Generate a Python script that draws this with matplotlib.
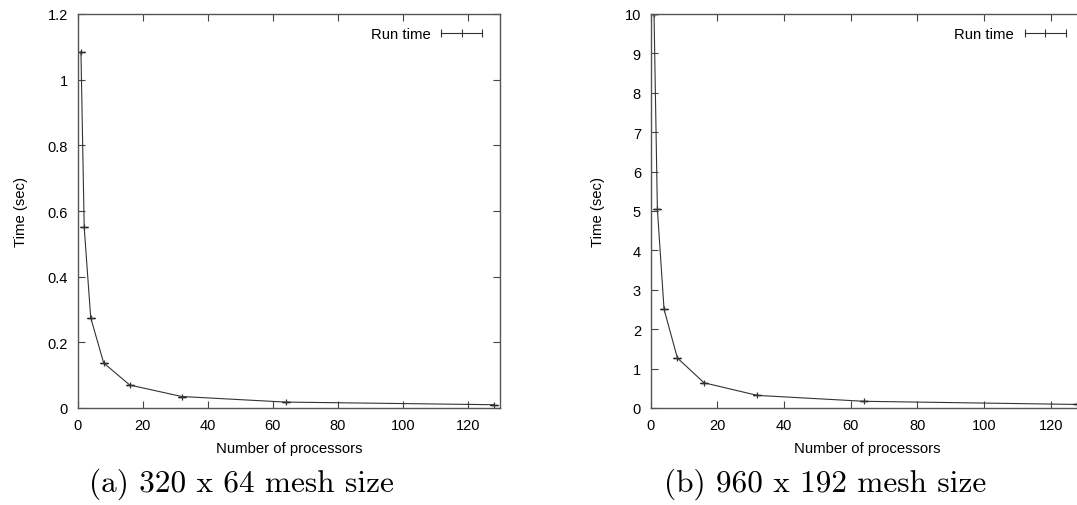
import matplotlib
matplotlib.use("Agg")
import matplotlib.pyplot as plt
from matplotlib.lines import Line2D

processors = [1, 2, 4, 8, 16, 32, 64, 128]
time_a = [1.085, 0.55, 0.275, 0.137, 0.07, 0.035, 0.018, 0.010]
time_b = [10.0, 5.05, 2.51, 1.27, 0.64, 0.32, 0.17, 0.09]
err_a = [0.0] * len(processors)
err_b = [0.0] * len(processors)
yticks_a = [0, 0.2, 0.4, 0.6, 0.8, 1, 1.2]
ytick_labels_a = ["0", "0.2", "0.4", "0.6", "0.8", "1", "1.2"]
yticks_b = list(range(0, 11))
xticks = [0, 20, 40, 60, 80, 100, 120]
captions = ["(a) 320 x 64 mesh size", "(b) 960 x 192 mesh size"]
series_label = "Run time"

plt.rcParams['font.family'] = ['Liberation Sans', 'DejaVu Sans']

fig = plt.figure(figsize=(10.77, 5.06), dpi=100)
W, H = 1077, 506

def make_ax(x0, y0, x1, y1):
    return fig.add_axes([x0 / W, 1 - y1 / H, (x1 - x0) / W, (y1 - y0) / H])

ax1 = make_ax(77.7, 15, 500.2, 409)
ax2 = make_ax(650.7, 15, 1084, 409)

spine_c = "#555555"
line_c = "#333333"

def style(ax, y, err, yticks, ylabels, ylim, caption, cap_x):
    ax.errorbar(processors, y, yerr=err, color=line_c, lw=0.8, marker='+',
                markersize=4.5, mew=0.9, capsize=3, capthick=0.9, ecolor='k')
    ax.set_xlim(0, 130)
    ax.set_ylim(*ylim)
    ax.set_xticks(xticks)
    ax.set_yticks(yticks)
    ax.set_yticklabels(ylabels)
    ax.tick_params(direction='in', length=5, width=0.8, colors='#444444',
                   labelcolor='black', labelsize=10.5, top=True, right=True, pad=7)
    for s in ax.spines.values():
        s.set_color(spine_c)
        s.set_linewidth(1.0)
    ax.set_xlabel("Number of processors", fontsize=10.7, labelpad=7)
    ax.set_ylabel("Time (sec)", fontsize=10.7, labelpad=14)
    h = Line2D([], [], color=line_c, lw=0.8, marker='|', markersize=6, mew=0.8)
    ax.legend([h], [series_label], loc='upper right', numpoints=3,
              frameon=False, fontsize=10.7, markerfirst=False,
              handlelength=3.4, handletextpad=0.4, borderaxespad=0.5)
    fig.text(cap_x / W, 1 - 484 / H, caption, family='cmr10', fontsize=22.5,
             ha='center', va='center')

style(ax1, time_a, err_a, yticks_a, ytick_labels_a, (0, 1.2), captions[0], 241)
style(ax2, time_b, err_b, yticks_b, [str(v) for v in yticks_b], (0, 10), captions[1], 825)

fig.savefig("out.png", dpi=100)
